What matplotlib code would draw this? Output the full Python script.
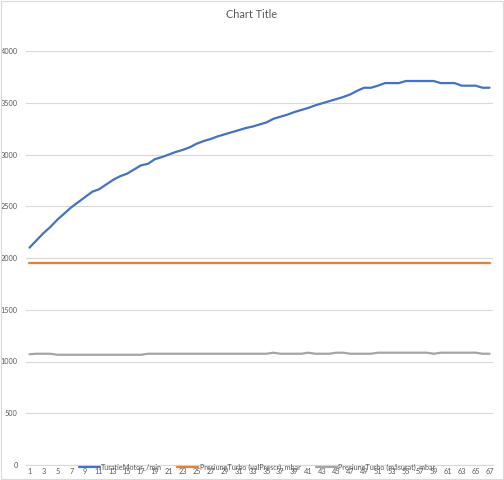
import matplotlib.pyplot as plt
import numpy as np
from matplotlib.patches import Rectangle

# values
categories = list(range(1, 68))

turatie_motor = [
    2100, 2170, 2240, 2300, 2370, 2430, 2490, 2540, 2590, 2640,
    2665, 2710, 2755, 2790, 2815, 2855, 2895, 2910, 2955, 2975,
    3000, 3025, 3045, 3070, 3105, 3130, 3150, 3175, 3195, 3215,
    3235, 3255, 3270, 3290, 3310, 3345, 3365, 3385, 3410, 3430,
    3450, 3475, 3495, 3515, 3535, 3555, 3580, 3615, 3645, 3645,
    3665, 3690, 3690, 3690, 3710, 3710, 3710, 3710, 3710, 3690,
    3690, 3690, 3665, 3665, 3665, 3645, 3645,
]

presiune_prescr = [1950] * 67

presiune_masurat = (
    [1070, 1075, 1075, 1075]
    + [1065] * 13
    + [1075] * 18
    + [1085]
    + [1075] * 4
    + [1085]
    + [1075] * 3
    + [1085, 1085]
    + [1075] * 4
    + [1085] * 8
    + [1075]
    + [1085] * 6
    + [1075, 1075]
)

labels = ["TuratieMotor_/min", "PresiuneTurbo (valPrescr)_mbar", "PresiuneTurbo (măsurat)_mbar"]
colors = ["#4472C4", "#ED7D31", "#A5A5A5"]
y_ticks = [0, 500, 1000, 1500, 2000, 2500, 3000, 3500, 4000]
x_tick_labels = [str(c) for c in categories[::2]]

text_col = "#595959"
plt.rcParams['font.family'] = ['Lato', 'DejaVu Sans']

fig = plt.figure(figsize=(5.04, 4.8), dpi=100)
ax = fig.add_axes([26 / 504, 15 / 480, 467 / 504, 414 / 480])

for series, lab, col in zip([turatie_motor, presiune_prescr, presiune_masurat], labels, colors):
    ax.plot(categories, series, color=col, linewidth=1.6, label=lab, solid_capstyle="round")

ax.set_xlim(0.5, 67.5)
ax.set_ylim(0, 4000)
ax.set_yticks(y_ticks)
ax.set_yticklabels([str(t) for t in y_ticks])
ax.set_xticks(categories[::2])
ax.set_xticklabels(x_tick_labels)
ax.tick_params(axis="both", length=0, labelsize=5.3, colors=text_col)
ax.tick_params(axis="x", pad=2)
ax.tick_params(axis="y", pad=6)

ax.grid(axis="y", color="#D9D9D9", linewidth=0.8)
ax.set_axisbelow(True)
for side in ["top", "right", "left"]:
    ax.spines[side].set_visible(False)
ax.spines["bottom"].set_color("#D9D9D9")
ax.spines["bottom"].set_linewidth(0.8)

fig.text(0.5, 1 - 14 / 480, "Chart Title", ha="center", va="center", fontsize=7.8, color=text_col)

leg = fig.legend(loc="center", bbox_to_anchor=(0.51, 1 - 467 / 480), ncol=3, frameon=False,
                 fontsize=5.2, handlelength=2.9, handletextpad=0.2, columnspacing=2.1,
                 labelcolor=text_col)

# light chart border
fig.patches.append(Rectangle((0.002, 0.002), 0.996, 0.996, transform=fig.transFigure,
                             fill=False, edgecolor="#D9D9D9", linewidth=0.8))

fig.savefig("out.png", dpi=100)
